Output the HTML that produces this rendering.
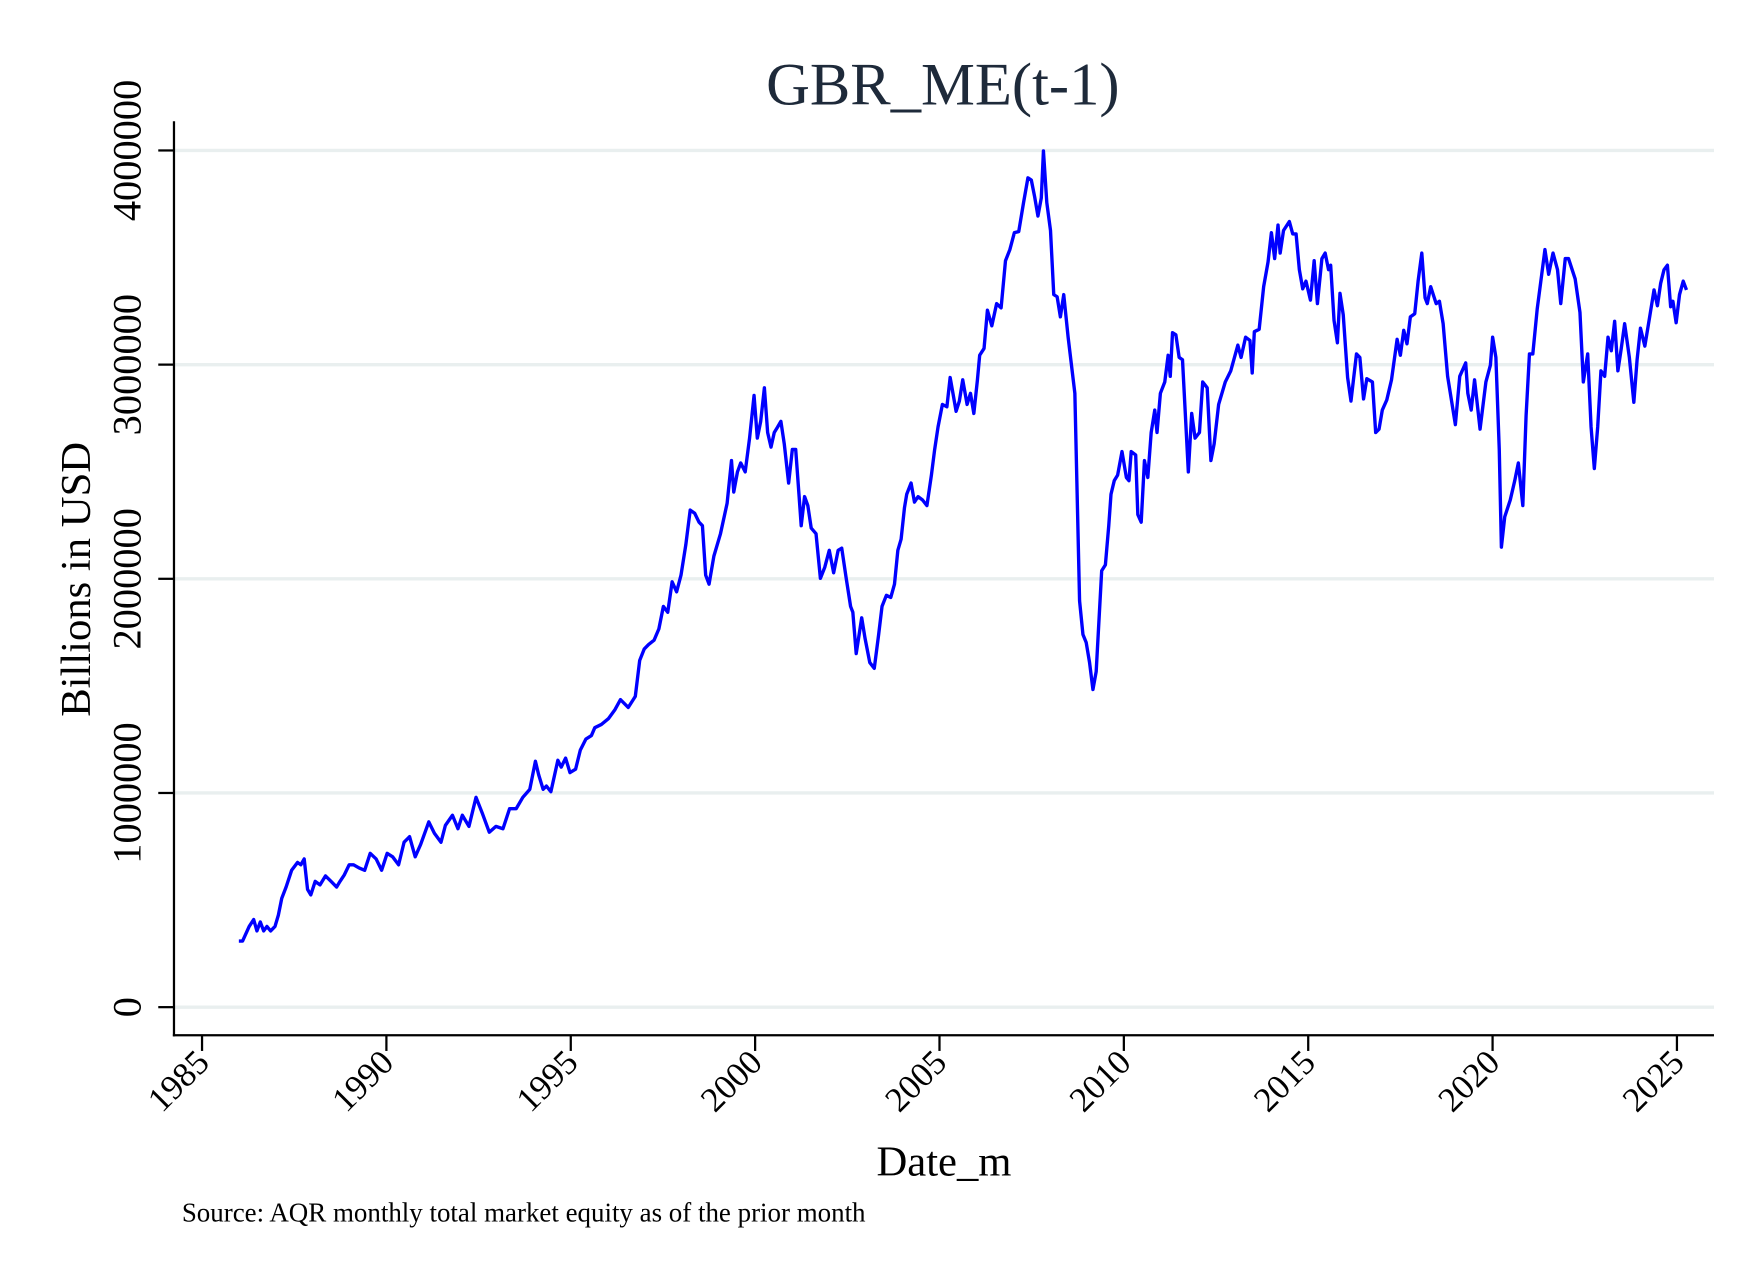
<!DOCTYPE html>
<html><head><meta charset="utf-8"><style>
html,body{margin:0;padding:0;background:#fff;}
svg{display:block;}
text{font-family:"Liberation Serif",serif;fill:#000;}
</style></head><body>
<svg id="chart" width="1760" height="1280" viewBox="0 0 1568 1140" preserveAspectRatio="none" xmlns="http://www.w3.org/2000/svg">
<rect x="0" y="0" width="1568" height="1140" fill="#fff"/>
<text x="840" y="93" text-anchor="middle" font-size="54" style="fill:#1e2a3a">GBR_ME(t-1)</text>
<g id="grid"></g>
<g id="yticks"></g>
<g id="xticks"></g>
<line x1="155" y1="108" x2="155" y2="923" stroke="#000" stroke-width="2"/>
<line x1="154" y1="922" x2="1527" y2="922" stroke="#000" stroke-width="2"/>
<path id="series" fill="none" stroke="#0000ff" stroke-width="3" stroke-linejoin="round"/>
<text transform="translate(80,516) rotate(-90)" text-anchor="middle" font-size="38">Billions in USD</text>
<text x="841" y="1047" text-anchor="middle" font-size="38">Date_m</text>
<text x="162" y="1088" font-size="24">Source: AQR monthly total market equity as of the prior month</text>
</svg>
<script>
const yTicks=[0,1000000,2000000,3000000,4000000];
const yTickLabels=["0","1000000","2000000","3000000","4000000"];
const xTicks=[1985,1990,1995,2000,2005,2010,2015,2020,2025];
const xTickLabels=["1985","1990","1995","2000","2005","2010","2015","2020","2025"];
const dates=[1986.00,1986.10,1986.28,1986.40,1986.49,1986.58,1986.67,1986.76,1986.86,1986.98,1987.07,1987.16,1987.28,1987.43,1987.59,1987.68,1987.77,1987.86,1987.95,1988.07,1988.20,1988.35,1988.50,1988.65,1988.74,1988.86,1988.99,1989.11,1989.26,1989.41,1989.56,1989.72,1989.87,1990.02,1990.17,1990.33,1990.48,1990.63,1990.78,1990.93,1991.15,1991.30,1991.48,1991.60,1991.79,1991.94,1992.06,1992.24,1992.43,1992.61,1992.79,1992.97,1993.16,1993.34,1993.52,1993.70,1993.89,1994.04,1994.13,1994.25,1994.34,1994.46,1994.65,1994.74,1994.86,1994.98,1995.13,1995.26,1995.41,1995.56,1995.65,1995.83,1996.02,1996.20,1996.35,1996.56,1996.75,1996.87,1996.99,1997.11,1997.26,1997.39,1997.51,1997.63,1997.75,1997.87,1997.99,1998.12,1998.24,1998.36,1998.48,1998.57,1998.66,1998.75,1998.88,1999.06,1999.24,1999.36,1999.42,1999.52,1999.61,1999.73,1999.85,1999.97,2000.06,2000.15,2000.25,2000.34,2000.43,2000.52,2000.61,2000.70,2000.79,2000.91,2001.01,2001.10,2001.19,2001.25,2001.34,2001.43,2001.52,2001.65,2001.77,2001.89,2002.01,2002.13,2002.25,2002.35,2002.47,2002.59,2002.65,2002.74,2002.89,2002.98,2003.11,2003.23,2003.35,2003.44,2003.56,2003.68,2003.78,2003.87,2003.96,2004.05,2004.11,2004.23,2004.32,2004.42,2004.54,2004.66,2004.78,2004.87,2004.96,2005.08,2005.20,2005.29,2005.36,2005.45,2005.54,2005.63,2005.75,2005.84,2005.93,2006.03,2006.09,2006.21,2006.30,2006.42,2006.55,2006.67,2006.79,2006.91,2007.03,2007.15,2007.28,2007.40,2007.49,2007.58,2007.67,2007.76,2007.82,2007.91,2008.01,2008.10,2008.19,2008.28,2008.37,2008.49,2008.67,2008.80,2008.89,2008.98,2009.07,2009.16,2009.25,2009.40,2009.50,2009.59,2009.65,2009.74,2009.83,2009.95,2010.07,2010.14,2010.20,2010.32,2010.38,2010.47,2010.56,2010.65,2010.74,2010.84,2010.90,2010.99,2011.11,2011.20,2011.26,2011.32,2011.41,2011.50,2011.59,2011.75,2011.84,2011.93,2012.05,2012.14,2012.26,2012.36,2012.45,2012.57,2012.75,2012.90,2013.09,2013.18,2013.30,2013.42,2013.48,2013.54,2013.67,2013.79,2013.91,2014.00,2014.09,2014.18,2014.24,2014.33,2014.49,2014.58,2014.67,2014.76,2014.85,2014.94,2015.06,2015.16,2015.25,2015.37,2015.46,2015.55,2015.61,2015.70,2015.79,2015.86,2015.95,2016.07,2016.16,2016.31,2016.40,2016.50,2016.59,2016.74,2016.83,2016.92,2017.01,2017.13,2017.26,2017.41,2017.50,2017.59,2017.68,2017.77,2017.89,2017.98,2018.08,2018.17,2018.23,2018.32,2018.47,2018.56,2018.66,2018.78,2018.99,2019.11,2019.27,2019.33,2019.42,2019.51,2019.66,2019.82,2019.94,2020.00,2020.09,2020.18,2020.24,2020.33,2020.48,2020.60,2020.70,2020.82,2020.91,2021.00,2021.09,2021.21,2021.33,2021.42,2021.52,2021.64,2021.76,2021.85,2021.97,2022.06,2022.24,2022.37,2022.46,2022.58,2022.67,2022.76,2022.85,2022.94,2023.04,2023.13,2023.22,2023.31,2023.40,2023.49,2023.58,2023.71,2023.83,2023.92,2024.01,2024.13,2024.26,2024.38,2024.47,2024.56,2024.65,2024.74,2024.83,2024.89,2024.98,2025.07,2025.17,2025.26];
const values=[309,309,377,409,356,398,356,377,356,377,430,508,561,639,676,665,692,550,524,587,571,613,587,561,587,618,665,665,650,639,718,692,639,718,702,665,770,796,702,760,865,812,770,849,896,833,896,844,980,901,817,844,833,927,927,980,1017,1148,1085,1017,1032,1006,1153,1121,1163,1095,1111,1200,1252,1268,1305,1320,1347,1389,1436,1399,1451,1619,1672,1693,1713,1766,1871,1844,1986,1939,2017,2159,2321,2306,2264,2248,2017,1975,2106,2211,2353,2552,2405,2499,2541,2499,2657,2856,2657,2735,2892,2683,2615,2683,2709,2735,2630,2447,2604,2604,2395,2248,2384,2342,2237,2211,2002,2054,2133,2028,2133,2143,2002,1871,1844,1651,1818,1724,1609,1582,1740,1871,1923,1913,1975,2133,2185,2332,2395,2447,2358,2384,2368,2342,2484,2604,2709,2814,2803,2940,2872,2782,2830,2929,2814,2866,2772,2929,3044,3076,3254,3181,3285,3265,3485,3537,3616,3621,3757,3872,3862,3783,3694,3778,3998,3757,3626,3327,3317,3223,3327,3128,2866,1897,1740,1703,1609,1483,1567,2038,2065,2248,2395,2458,2484,2594,2473,2458,2594,2578,2300,2264,2552,2473,2683,2788,2683,2866,2919,3044,2945,3149,3139,3034,3023,2499,2772,2657,2683,2919,2892,2552,2630,2814,2919,2971,3091,3034,3128,3113,2961,3154,3165,3364,3479,3616,3495,3652,3521,3626,3668,3610,3610,3443,3354,3390,3301,3485,3285,3495,3521,3443,3464,3207,3102,3333,3233,2940,2830,3050,3034,2840,2934,2919,2683,2699,2788,2835,2929,3118,3044,3160,3097,3223,3238,3390,3521,3312,3285,3364,3285,3296,3191,2945,2720,2945,3008,2866,2788,2929,2699,2919,2997,3128,3034,2604,2148,2290,2368,2458,2541,2342,2761,3050,3050,3259,3416,3537,3422,3521,3443,3285,3495,3495,3401,3244,2919,3050,2709,2515,2709,2971,2945,3128,3065,3202,2971,3076,3191,3034,2824,3023,3170,3086,3223,3349,3275,3380,3443,3464,3270,3296,3196,3327,3390,3349];
const valueScale=1000;
const NS="http://www.w3.org/2000/svg";
function xScale(yr){return 180+(yr-1985)*(1494-180)/40;}
function yScale(v){return 897-v*(897-134)/4000000;}
const grid=document.getElementById('grid'),yt=document.getElementById('yticks'),xt=document.getElementById('xticks');
yTicks.forEach((v,i)=>{
  const y=yScale(v);
  const g=document.createElementNS(NS,'line');
  
  
  g.setAttribute('x1',156);g.setAttribute('x2',1527);g.setAttribute('y1',y);g.setAttribute('y2',y);
  g.setAttribute('stroke','#e9efef');g.setAttribute('stroke-width','3');
  grid.appendChild(g);
  const t=document.createElementNS(NS,'line');
  
  
  t.setAttribute('x1',141);t.setAttribute('x2',155);t.setAttribute('y1',y);t.setAttribute('y2',y);
  t.setAttribute('stroke','#000');t.setAttribute('stroke-width','2');
  yt.appendChild(t);
  const l=document.createElementNS(NS,'text');
  
  
  l.setAttribute('transform','translate(125,'+y+') rotate(-90)');
  l.setAttribute('text-anchor','middle');l.setAttribute('font-size','36');
  l.textContent=yTickLabels[i];
  yt.appendChild(l);
});
xTicks.forEach((yr,i)=>{
  const x=xScale(yr);
  const t=document.createElementNS(NS,'line');
  
  
  t.setAttribute('x1',x);t.setAttribute('x2',x);t.setAttribute('y1',922);t.setAttribute('y2',936);
  t.setAttribute('stroke','#000');t.setAttribute('stroke-width','2');
  xt.appendChild(t);
  const l=document.createElementNS(NS,'text');
  
  
  l.setAttribute('transform','translate('+(x+8)+',948) rotate(-45)');
  l.setAttribute('text-anchor','end');l.setAttribute('font-size','31');
  l.textContent=xTickLabels[i];
  xt.appendChild(l);
});
let d='';
dates.forEach((yr,i)=>{d+=(i?'L':'M')+xScale(yr).toFixed(1)+' '+yScale(values[i]*valueScale).toFixed(1);});
document.getElementById('series').setAttribute('d',d);
</script>
</body></html>
